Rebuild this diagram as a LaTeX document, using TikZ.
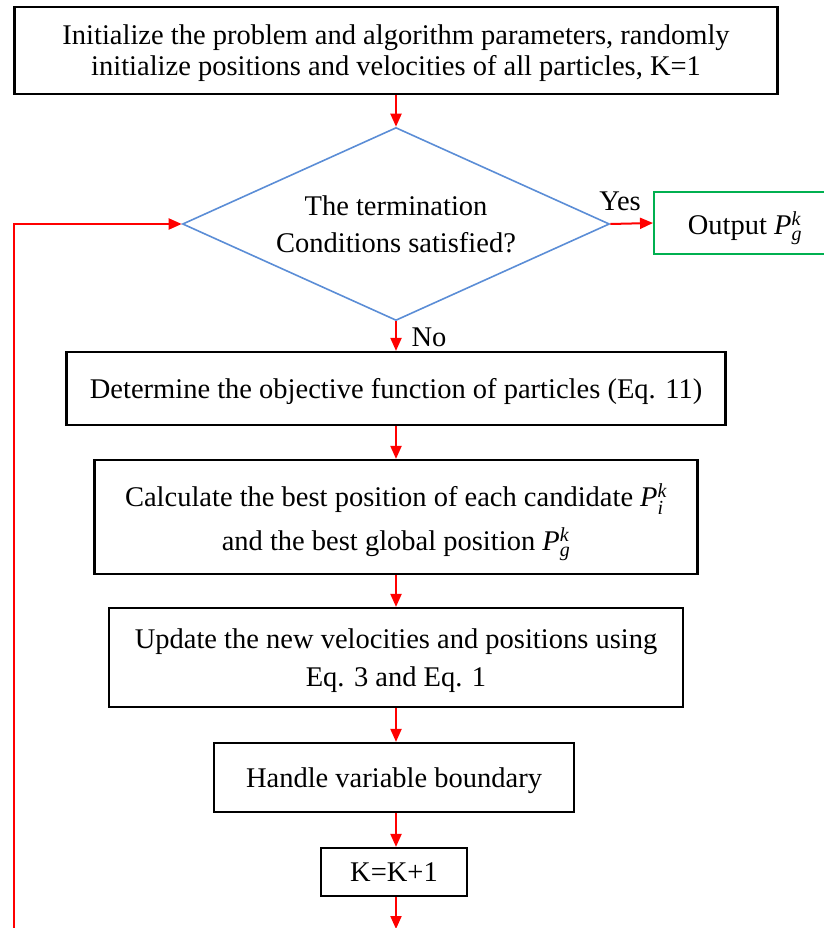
\documentclass[tikz,border=0pt]{standalone}
\usepackage{amsmath}
\usepackage{fontspec}
\setmainfont{Liberation Serif}
\usetikzlibrary{arrows.meta,shapes.geometric}
\definecolor{dblue}{RGB}{91,141,214}
\definecolor{dgreen}{RGB}{0,176,80}
\newcommand{\Pgk}{\textit{P}$_{\textit{g}}^{\textit{k}}$}
\newcommand{\Pik}{\textit{P}$_{\textit{i}}^{\textit{k}}$}
\begin{document}
\begin{tikzpicture}[x=1pt,y=-1pt,
  box/.style={draw=black,line width=2.2pt,inner sep=0pt,text depth=0pt,align=center,font=\fontsize{28.5}{31}\selectfont},
  arr/.style={draw=red,line width=2pt,-{Triangle[length=13pt,width=11pt]}},
  lab/.style={font=\fontsize{28.5}{31}\selectfont}]
\useasboundingbox (0,0) rectangle (823,928);
\node[box,minimum width=763,minimum height=87] (init) at (396,50.5)
  {Initialize the problem and algorithm parameters, randomly\\initialize positions and velocities of all particles, K=1};
\node[diamond,draw=dblue,line width=1.6pt,shape aspect=2.2124,minimum width=427,minimum height=193,inner sep=0pt,align=center,
  font=\fontsize{28.5}{37}\selectfont] (dec) at (396,224)
  {The termination\\Conditions satisfied?};
\node[box,draw=dgreen,line width=2pt,minimum width=182,minimum height=62] (out) at (745,223)
  {Output \Pgk};
\node[box,minimum width=659,minimum height=73] (det) at (396,388.5)
  {Determine the objective function of particles (Eq. 11)};
\node[box,minimum width=603,minimum height=114,font=\fontsize{28.5}{44}\selectfont] (calc) at (396,517)
  {Calculate the best position of each candidate \Pik\\and the best global position \Pgk};
\node[box,minimum width=574,minimum height=99,font=\fontsize{28.5}{38}\selectfont] (upd) at (396,657.5)
  {Update the new velocities and positions using\\Eq. 3 and Eq. 1};
\node[box,minimum width=360,minimum height=69] (hand) at (394,777.5)
  {Handle variable boundary};
\node[box,minimum width=146,minimum height=48] (kk) at (394,872)
  {K=K+1};
\coordinate (bend) at (396,929);
\coordinate (lb) at (14,929);
\node[lab] (yes) at (620,201) {Yes};
\node[lab] (no) at (429,337) {No};
\draw[arr] (init.south -| dec.north) -- (dec.north);
\draw[arr] (dec.east) -- (out.west);
\draw[arr] (dec.south) -- (det.north -| dec.south);
\draw[arr] (det.south -| dec.south) -- (calc.north -| dec.south);
\draw[arr] (calc.south -| dec.south) -- (upd.north -| dec.south);
\draw[arr] (upd.south -| dec.south) -- (hand.north -| dec.south);
\draw[arr] (hand.south -| dec.south) -- (kk.north -| dec.south);
\draw[arr] (kk.south -| dec.south) -- (bend);
\draw[arr] (lb) |- (dec.west);
\end{tikzpicture}
\end{document}
